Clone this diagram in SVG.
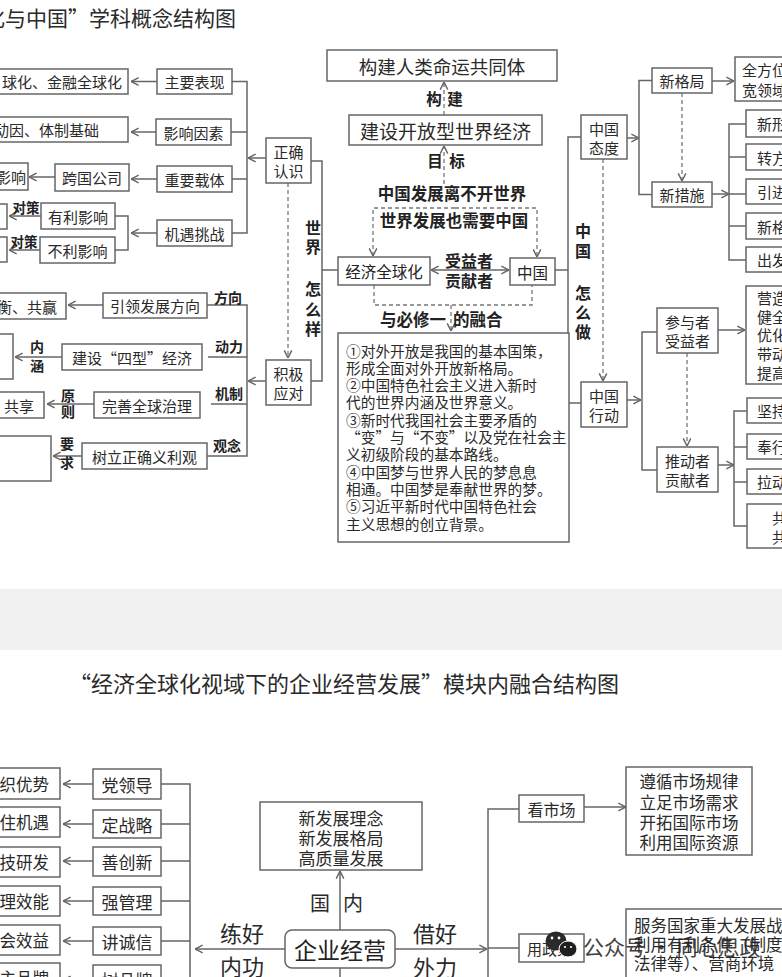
<svg xmlns="http://www.w3.org/2000/svg" width="782" height="977" viewBox="0 0 782 977">
<style>
.b{fill:#fff;stroke:#666;stroke-width:1.5}
.l{fill:none;stroke:#666;stroke-width:1.5}
.d{fill:none;stroke:#777;stroke-width:1.3;stroke-dasharray:4 3}
text{font-family:"Noto Sans CJK SC","Noto Sans CJK JP",sans-serif;fill:#2a2a2a;dominant-baseline:central}
.t{font-size:15px}
.m{text-anchor:middle}
.e{text-anchor:end}
.k{font-weight:bold;fill:#222}
.s14{font-size:14px}
.s16{font-size:16px}
.s17{font-size:17px}
</style>
<defs>
<marker id="a" viewBox="0 0 10 10" refX="9.5" refY="5" markerWidth="9" markerHeight="10" orient="auto-start-reverse" markerUnits="userSpaceOnUse">
<path d="M1,0.8 L9.5,5 L1,9.2" fill="none" stroke="#666" stroke-width="1.6"/>
</marker>
</defs>
<rect x="0" y="0" width="782" height="977" fill="#fff"/>
<rect x="0" y="589" width="782" height="61" fill="#f1f1f1"/>

<text x="236" y="17" class="e" style="font-size:21px">“经济全球化与中国”学科概念结构图</text>
<text x="69" y="682" style="font-size:22px">“经济全球化视域下的企业经营发展”模块内融合结构图</text>

<g id="connectors">
<path class="l" d="M157,81.5 H131" marker-end="url(#a)"/>
<path class="l" d="M156,132 H131" marker-end="url(#a)"/>
<path class="l" d="M55,177 H29" marker-end="url(#a)"/>
<path class="l" d="M157,179 H131" marker-end="url(#a)"/>
<path class="l" d="M157,233 H131" marker-end="url(#a)"/>
<path class="l" d="M115,216 H128 V250 H115"/>
<path class="l" d="M41,216 H9" marker-end="url(#a)"/>
<path class="l" d="M40,250 H9" marker-end="url(#a)"/>
<path class="l" d="M232,81.5 H247 V233 H232 M231,132 H247 M232,179 H247"/>
<path class="l" d="M266,158 H248" marker-end="url(#a)"/>
<path class="l" d="M311,161 H322 V381 H311 M322,270 H338"/>
<path class="d" d="M288,183 V358" marker-end="url(#a)"/>
<path class="l" d="M266,381 H248" marker-end="url(#a)"/>
<path class="l" d="M207,305 H247 V456 H207 M208,357 H247 M211,404 H247"/>
<path class="l" d="M103,305 H68" marker-end="url(#a)"/>
<path class="l" d="M62,357 H15" marker-end="url(#a)"/>
<path class="l" d="M94,404 H47" marker-end="url(#a)"/>
<path class="l" d="M82,456 H53" marker-end="url(#a)"/>

<path class="d" d="M444,115 V82" marker-end="url(#a)"/>
<path class="d" d="M444,184 V146" marker-end="url(#a)"/>
<path class="d" d="M455,208 H373 V256" marker-end="url(#a)"/>
<path class="d" d="M455,208 H537 V257" marker-end="url(#a)"/>
<path class="l" d="M431,270 H509" marker-start="url(#a)" marker-end="url(#a)"/>
<path class="l" d="M555,270 H568"/>
<path class="d" d="M374,285 V305 H532 V285"/>
<path class="d" d="M451,305 V331" marker-end="url(#a)"/>

<path class="l" d="M581,137 H568 V403 H581"/>
<path class="d" d="M603,159 V381" marker-end="url(#a)"/>
<path class="l" d="M627,138 H639" marker-end="url(#a)"/>
<path class="l" d="M652,80.5 H639 V194.5 H652"/>
<path class="l" d="M712,81 H734" marker-end="url(#a)"/>
<path class="d" d="M682,93 V181" marker-end="url(#a)"/>
<path class="l" d="M712,194 H729" marker-end="url(#a)"/>
<path class="l" d="M746,124 H729 V260 H746 M729,157 H746 M729,194 H746 M729,226 H746"/>
<path class="l" d="M627,400 H641" marker-end="url(#a)"/>
<path class="l" d="M657,332 H642 V470 H657"/>
<path class="d" d="M687,353 V446" marker-end="url(#a)"/>
<path class="l" d="M718,330 H745" marker-end="url(#a)"/>
<path class="l" d="M718,465 H734" marker-end="url(#a)"/>
<path class="l" d="M747,411 H734 V526 H747 M734,447 H747 M734,482 H747"/>

<path class="l" d="M93,784 H63" marker-end="url(#a)"/>
<path class="l" d="M93,824 H63" marker-end="url(#a)"/>
<path class="l" d="M93,861 H63" marker-end="url(#a)"/>
<path class="l" d="M93,901 H63" marker-end="url(#a)"/>
<path class="l" d="M93,941 H63" marker-end="url(#a)"/>
<path class="l" d="M93,980 H63" marker-end="url(#a)"/>
<path class="l" d="M161,784 H190 V980 M161,824 H190 M161,861 H190 M161,901 H190 M161,941 H190 M161,979 H190"/>
<path class="l" d="M285,949 H195" marker-end="url(#a)"/>
<path class="l" d="M340,930 V871" marker-end="url(#a)"/>
<path class="l" d="M340,968 V980"/>
<path class="l" d="M395,949 H487" marker-end="url(#a)"/>
<path class="l" d="M519,809 H488 V980 M488,948 H519"/>
<path class="l" d="M584,807 H626" marker-end="url(#a)"/>
</g>

<!-- top-left nodes -->
<g id="n_biaoxian_r"><rect class="b" x="-5" y="69" width="133" height="25"/><text class="t" x="2" y="81.5">球化、金融全球化</text></g>
<g id="n_zhuyao"><rect class="b" x="157" y="69" width="75" height="25"/><text class="t m" x="194.5" y="81.5">主要表现</text></g>
<g id="n_yinsu_r"><rect class="b" x="-5" y="117" width="133" height="25"/><text class="t e" x="99" y="129.5">动因、体制基础</text></g>
<g id="n_yinsu"><rect class="b" x="156" y="119" width="75" height="26"/><text class="t m" x="193.5" y="132">影响因素</text></g>
<g id="n_yingxiang"><rect class="b" x="-5" y="163" width="33" height="27"/><text class="t e" x="26" y="176.5">影响</text></g>
<g id="n_kuaguo"><rect class="b" x="55" y="164" width="74" height="27"/><text class="t m" x="92" y="177.5">跨国公司</text></g>
<g id="n_zaiti"><rect class="b" x="157" y="166" width="75" height="26"/><text class="t m" x="194.5" y="179">重要载体</text></g>
<g id="n_jiyu"><rect class="b" x="157" y="220" width="75" height="26"/><text class="t m" x="194.5" y="233">机遇挑战</text></g>
<g id="n_youli"><rect class="b" x="41" y="203" width="74" height="26"/><text class="t m" x="78" y="216">有利影响</text></g>
<g id="n_buli"><rect class="b" x="40" y="237" width="75" height="26"/><text class="t m" x="77.5" y="250">不利影响</text></g>
<g id="n_youli_r"><rect class="b" x="-5" y="204" width="12" height="25"/></g>
<g id="n_buli_r"><rect class="b" x="-5" y="237" width="12" height="25"/></g>
<g id="n_zhengque"><rect class="b" x="266" y="138" width="45" height="45"/><text class="t m" x="288.5" y="151">正确</text><text class="t m" x="288.5" y="170">认识</text></g>
<g id="n_jiji"><rect class="b" x="266" y="360" width="45" height="45"/><text class="t m" x="288.5" y="373">积极</text><text class="t m" x="288.5" y="392">应对</text></g>
<g id="n_yinling"><rect class="b" x="103" y="293" width="104" height="25"/><text class="t m" x="155" y="305.5">引领发展方向</text></g>
<g id="n_gongying"><rect class="b" x="-5" y="293" width="71" height="26"/><text class="t e" x="57" y="306">平衡、共赢</text></g>
<g id="n_sixing"><rect class="b" x="62" y="344" width="140" height="26"/><text class="t m" x="132" y="357">建设“四型”经济</text></g>
<g id="n_sixing_r"><rect class="b" x="-5" y="334" width="18" height="45"/></g>
<g id="n_zhili"><rect class="b" x="94" y="392" width="106" height="26"/><text class="t m" x="147" y="405">完善全球治理</text></g>
<g id="n_gongxiang"><rect class="b" x="-5" y="392" width="49" height="26"/><text class="t" x="4" y="405">共享</text></g>
<g id="n_yiliguan"><rect class="b" x="82" y="443" width="125" height="26"/><text class="t m" x="144.5" y="456">树立正确义利观</text></g>
<g id="n_yiliguan_r"><rect class="b" x="-5" y="436" width="56" height="45"/></g>

<g id="labels_left">
<text class="k m" x="26" y="207" style="font-size:13.5px">对策</text>
<text class="k m" x="24" y="241" style="font-size:13.5px">对策</text>
<text class="k m s14" x="228" y="297">方向</text>
<text class="k m s14" x="229" y="346">动力</text>
<text class="k m s14" x="229" y="393">机制</text>
<text class="k m s14" x="227" y="445">观念</text>
<text class="k m s14" x="37" y="346">内</text><text class="k m s14" x="37" y="365">涵</text>
<text class="k m s14" x="68" y="395">原</text><text class="k m s14" x="68" y="411">则</text>
<text class="k m s14" x="67" y="443">要</text><text class="k m s14" x="67" y="462">求</text>
<text class="k m s16" x="313" y="227">世</text><text class="k m s16" x="313" y="246">界</text>
<text class="k m s16" x="313" y="288">怎</text><text class="k m s16" x="313" y="309">么</text><text class="k m s16" x="313" y="328">样</text>
</g>

<!-- center -->
<g id="n_mingyun"><rect class="b" x="327" y="50" width="230" height="31"/><text class="m" x="442" y="65.5" style="font-size:18.5px">构建人类命运共同体</text></g>
<g id="n_kaifang"><rect class="b" x="349" y="115" width="193" height="30"/><text class="m" x="445.5" y="130" style="font-size:19px">建设开放型世界经济</text></g>
<g id="labels_center">
<text class="k m" x="434" y="98" style="font-size:15.5px">构</text><text class="k m" x="455" y="98" style="font-size:15.5px">建</text>
<text class="k m" x="435" y="160" style="font-size:15.5px">目</text><text class="k m" x="457" y="160" style="font-size:15.5px">标</text>
<text class="k m" x="452" y="193" style="font-size:16.5px">中国发展离不开世界</text>
<text class="k m" x="454" y="220" style="font-size:16.5px">世界发展也需要中国</text>
<text class="k m s16" x="469" y="260">受益者</text>
<text class="k m s16" x="469" y="280">贡献者</text>
<text class="k" x="380" y="318.5" style="font-size:16.5px">与必修一</text>
<text class="k" x="453" y="318.5" style="font-size:16.5px">的融合</text>
</g>
<g id="n_quanqiuhua"><rect class="b" x="338" y="257" width="92" height="28"/><text class="m" x="384" y="271" style="font-size:15.5px;fill:#222">经济全球化</text></g>
<g id="n_zhongguo"><rect class="b" x="510" y="258" width="45" height="27"/><text class="m" x="532.5" y="271.5" style="font-size:15.5px;fill:#222">中国</text></g>
<g id="n_ronghe"><rect class="b" x="338" y="333" width="231" height="209"/>
<text style="font-size:14.7px" x="346" y="350">①对外开放是我国的基本国策，</text>
<text style="font-size:14.7px" x="346" y="367.3">形成全面对外开放新格局。</text>
<text style="font-size:14.7px" x="346" y="384.6">②中国特色社会主义进入新时</text>
<text style="font-size:14.7px" x="346" y="401.9">代的世界内涵及世界意义。</text>
<text style="font-size:14.7px" x="346" y="419.2">③新时代我国社会主要矛盾的</text>
<text style="font-size:14.7px" x="346" y="436.5">“变”与“不变”以及党在社会主</text>
<text style="font-size:14.7px" x="346" y="453.8">义初级阶段的基本路线。</text>
<text style="font-size:14.7px" x="346" y="471.1">④中国梦与世界人民的梦息息</text>
<text style="font-size:14.7px" x="346" y="488.4">相通。中国梦是奉献世界的梦。</text>
<text style="font-size:14.7px" x="346" y="505.7">⑤习近平新时代中国特色社会</text>
<text style="font-size:14.7px" x="346" y="523">主义思想的创立背景。</text>
</g>

<!-- right -->
<g id="labels_right">
<text class="k m s16" x="583" y="230">中</text><text class="k m s16" x="583" y="250">国</text>
<text class="k m s16" x="583" y="292">怎</text><text class="k m s16" x="583" y="312">么</text><text class="k m s16" x="583" y="331">做</text>
</g>
<g id="n_taidu"><rect class="b" x="581" y="115" width="46" height="44"/><text class="t m" x="604" y="128">中国</text><text class="t m" x="604" y="147">态度</text></g>
<g id="n_xingeju"><rect class="b" x="652" y="68" width="60" height="25"/><text class="t m" x="682" y="80.5">新格局</text></g>
<g id="n_quanfangwei"><rect class="b" x="735" y="57" width="60" height="44"/><text class="t" x="742" y="69">全方位</text><text class="t" x="742" y="89">宽领域</text></g>
<g id="n_xincuoshi"><rect class="b" x="652" y="182" width="60" height="25"/><text class="t m" x="682" y="194.5">新措施</text></g>
<g id="n_c1"><rect class="b" x="746" y="110" width="50" height="27"/><text class="t" x="757" y="123.5">新形</text></g>
<g id="n_c2"><rect class="b" x="746" y="144" width="50" height="26"/><text class="t" x="757" y="157">转方</text></g>
<g id="n_c3"><rect class="b" x="746" y="179" width="50" height="25"/><text class="t" x="757" y="191.5">引进</text></g>
<g id="n_c4"><rect class="b" x="746" y="213" width="50" height="26"/><text class="t" x="757" y="226">新格</text></g>
<g id="n_c5"><rect class="b" x="746" y="247" width="50" height="25"/><text class="t" x="757" y="259.5">出发</text></g>
<g id="n_xingdong"><rect class="b" x="581" y="382" width="46" height="45"/><text class="t m" x="604" y="395">中国</text><text class="t m" x="604" y="414">行动</text></g>
<g id="n_canyu"><rect class="b" x="657" y="308" width="61" height="45"/><text class="t m" x="687.5" y="321.5">参与者</text><text class="t m" x="687.5" y="340">受益者</text></g>
<g id="n_tuidong"><rect class="b" x="657" y="447" width="61" height="45"/><text class="t m" x="687.5" y="460.5">推动者</text><text class="t m" x="687.5" y="479">贡献者</text></g>
<g id="n_yingzao"><rect class="b" x="746" y="286" width="50" height="98"/>
<text class="t" x="757" y="297">营造</text><text class="t" x="757" y="316">健全</text><text class="t" x="757" y="334.5">优化</text><text class="t" x="757" y="353">带动</text><text class="t" x="757" y="372">提高</text></g>
<g id="n_d1"><rect class="b" x="747" y="398" width="50" height="25"/><text class="t" x="757" y="410.5">坚持</text></g>
<g id="n_d2"><rect class="b" x="747" y="434" width="50" height="25"/><text class="t" x="757" y="446.5">奉行</text></g>
<g id="n_d3"><rect class="b" x="747" y="469" width="50" height="25"/><text class="t" x="757" y="481.5">拉动</text></g>
<g id="n_d4"><rect class="b" x="747" y="504" width="50" height="44"/><text class="t" x="772" y="517">共</text><text class="t" x="772" y="536">共</text></g>

<!-- bottom -->
<g id="n_b1"><rect class="b" x="-5" y="768" width="65" height="31"/><text class="e" x="49" y="783.5" style="font-size:16.5px">组织优势</text></g>
<g id="n_b2"><rect class="b" x="-5" y="807" width="65" height="30"/><text class="e" x="49" y="822" style="font-size:16.5px">抓住机遇</text></g>
<g id="n_b3"><rect class="b" x="-5" y="847" width="65" height="30"/><text class="e" x="49" y="862" style="font-size:16.5px">科技研发</text></g>
<g id="n_b4"><rect class="b" x="-5" y="886" width="65" height="30"/><text class="e" x="49" y="901" style="font-size:16.5px">管理效能</text></g>
<g id="n_b5"><rect class="b" x="-5" y="925" width="65" height="30"/><text class="e" x="49" y="940" style="font-size:16.5px">社会效益</text></g>
<g id="n_b6"><rect class="b" x="-5" y="963" width="65" height="30"/><text class="e" x="49" y="978" style="font-size:16.5px">自主品牌</text></g>
<g id="n_m1"><rect class="b" x="93" y="769" width="68" height="30"/><text class="m s17" x="127" y="784">党领导</text></g>
<g id="n_m2"><rect class="b" x="93" y="810" width="68" height="28"/><text class="m s17" x="127" y="824">定战略</text></g>
<g id="n_m3"><rect class="b" x="93" y="847" width="68" height="29"/><text class="m s17" x="127" y="861.5">善创新</text></g>
<g id="n_m4"><rect class="b" x="93" y="887" width="68" height="28"/><text class="m s17" x="127" y="901">强管理</text></g>
<g id="n_m5"><rect class="b" x="93" y="927" width="68" height="28"/><text class="m s17" x="127" y="941">讲诚信</text></g>
<g id="n_m6"><rect class="b" x="93" y="965" width="68" height="28"/><text class="m s17" x="127" y="979">树品牌</text></g>
<g id="labels_bottom">
<text class="m" x="242" y="932" style="font-size:22px">练好</text>
<text class="m" x="242" y="965" style="font-size:22px">内功</text>
<text class="m" x="320" y="902" style="font-size:20px">国</text>
<text class="m" x="353" y="902" style="font-size:20px">内</text>
<text class="m" x="435" y="932" style="font-size:22px">借好</text>
<text class="m" x="435" y="966" style="font-size:22px">外力</text>
</g>
<g id="n_xinfazhan"><rect class="b" x="260" y="802" width="162" height="68"/>
<text class="m s17" x="341" y="817">新发展理念</text><text class="m s17" x="341" y="837">新发展格局</text><text class="m s17" x="341" y="857">高质量发展</text></g>
<g id="n_qiye"><rect class="b" x="285" y="930" width="110" height="38" rx="7"/><text class="m" x="340" y="949" style="font-size:23px;fill:#222">企业经营</text></g>
<g id="n_kanshichang"><rect class="b" x="519" y="795" width="65" height="27"/><text class="m s16" x="551.5" y="808.5">看市场</text></g>
<g id="n_zunxun"><rect class="b" x="626" y="767" width="126" height="88"/>
<text class="m" x="689" y="781" style="font-size:16.5px">遵循市场规律</text><text class="m" x="689" y="802" style="font-size:16.5px">立足市场需求</text><text class="m" x="689" y="822" style="font-size:16.5px">开拓国际市场</text><text class="m" x="689" y="842" style="font-size:16.5px">利用国际资源</text></g>
<g id="n_yongzhengce"><rect class="b" x="519" y="934" width="65" height="28"/><text class="t" x="527" y="948">用政策</text></g>
<g id="n_fuwu"><rect class="b" x="626" y="909" width="170" height="80"/>
<text x="634" y="925" style="font-size:16.5px">服务国家重大发展战</text>
<text x="634" y="944" style="font-size:16.5px">利用有利条件（制度</text>
<text x="634" y="963" style="font-size:16.5px">法律等）、营商环境</text></g>

<g id="watermark">
<ellipse cx="556" cy="941" rx="10.5" ry="9.5" fill="#2a2a2a"/>
<ellipse cx="568" cy="949" rx="9" ry="8" fill="#1f1f1f" stroke="#fff" stroke-width="1"/>
<circle cx="552" cy="938" r="1.4" fill="#fff"/><circle cx="559" cy="938" r="1.4" fill="#fff"/>
<circle cx="565" cy="947" r="1.1" fill="#fff"/><circle cx="571" cy="947" r="1.1" fill="#fff"/>
<text x="583" y="946" style="font-size:21px;fill:#222;opacity:0.85">公众号 · 同心思政</text>
</g>
</svg>
